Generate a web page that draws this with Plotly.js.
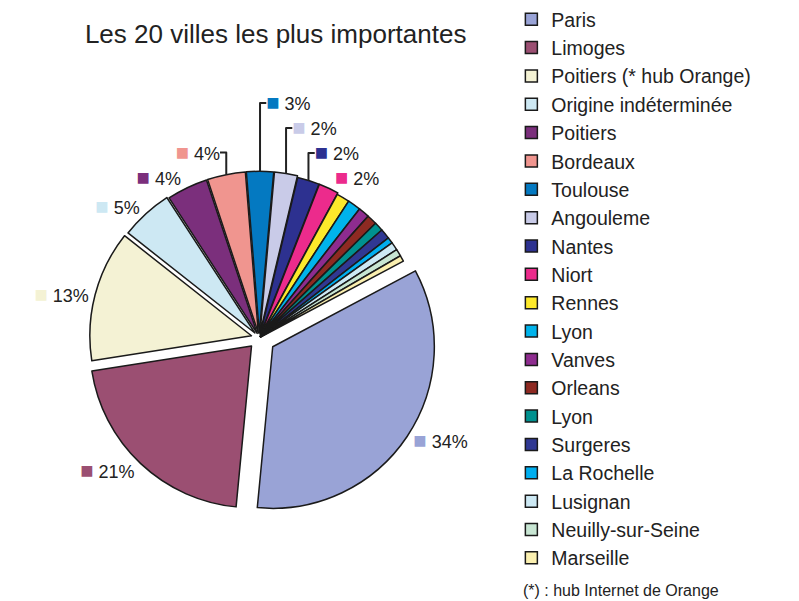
<!DOCTYPE html>
<html>
<head>
<meta charset="utf-8">
<script src="https://cdn.plot.ly/plotly-3.0.1.min.js"></script>
<style>
  body { margin: 0; background: #fff; }
  #chart { width: 799px; height: 601px; }
</style>
</head>
<body>
<div id="chart"></div>
<script>
// villes (le deuxième "Lyon" porte un espace invisible pour ne pas être fusionné)
var villes = ['Paris', 'Limoges', 'Poitiers (* hub Orange)', 'Origine indéterminée', 'Poitiers',
  'Bordeaux', 'Toulouse', 'Angouleme', 'Nantes', 'Niort', 'Rennes', 'Lyon', 'Vanves',
  'Orleans', 'Lyon\u200b', 'Surgeres', 'La Rochelle', 'Lusignan', 'Neuilly-sur-Seine', 'Marseille'];
var parts = [34.3, 21.0, 13.1, 5.2, 4.1, 3.8, 2.7, 2.3, 2.2, 2.0,
  1.3, 1.3, 1.1, 1.0, 0.9, 1.0, 0.6, 0.8, 0.7, 0.6];
var couleurs = ['#99a3d6', '#9b4f72', '#f4f2d4', '#cde8f3', '#7b2f7c', '#f0958f', '#0479c1',
  '#c9cbe8', '#2d3190', '#ec2b8c', '#fde92b', '#00b3eb', '#8e2c8f', '#8e2a22', '#00918f',
  '#303893', '#00aeef', '#cde9f4', '#c8e6d3', '#fbf0b0'];
var ecarts = [0.1, 0.07, 0.05, 0.04, 0.03, 0.03, 0.03, 0.03, 0.02, 0.02,
  0.01, 0.01, 0.01, 0.01, 0.01, 0.01, 0.01, 0.01, 0.01, 0.01];
var nbEtiquettes = 10; // seules les 10 premières tranches ont un pourcentage

var modeles = [];
for (var i = 0; i < villes.length; i++) {
  if (i < nbEtiquettes) {
    modeles.push('<span style="color:' + couleurs[i] + ';font-size:22px">■</span> %{percent:.0%}');
  } else {
    modeles.push('');
  }
}

var trace1 = {
  type: 'pie',
  labels: villes,
  values: parts,
  sort: false,
  direction: 'clockwise',
  rotation: 62,
  pull: ecarts,
  marker: { colors: couleurs, line: { color: '#1a1a1a', width: 1.5 } },
  texttemplate: modeles,
  textposition: 'outside',
  textfont: { family: 'Liberation Sans, Arial, sans-serif', size: 18, color: '#222' },
  hoverinfo: 'label+percent',
  domain: { x: [0.102, 0.547], y: [0.142, 0.734] }
};

var layout = {
  width: 799,
  height: 601,
  margin: { l: 0, r: 0, t: 0, b: 0 },
  paper_bgcolor: '#ffffff',
  font: { family: 'Liberation Sans, Arial, sans-serif', color: '#222' },
  title: {
    text: 'Les 20 villes les plus importantes',
    font: { size: 26, color: '#222' },
    x: 0.345, xanchor: 'center', y: 0.943, yanchor: 'middle'
  },
  showlegend: true,
  legend: {
    x: 0.64, xanchor: 'left', y: 1.0, yanchor: 'top',
    font: { size: 19.5, color: '#222' },
    maxheight: 1,
    bgcolor: 'rgba(0,0,0,0)'
  },
  annotations: [{
    text: '(*) : hub Internet de Orange',
    xref: 'paper', yref: 'paper', x: 0.652, y: 0.0, xanchor: 'left', yanchor: 'bottom',
    showarrow: false, font: { size: 16, color: '#222' }
  }]
};

Plotly.newPlot('chart', [trace1], layout, { displayModeBar: false, showSendToCloud: false });
</script>
</body>
</html>
